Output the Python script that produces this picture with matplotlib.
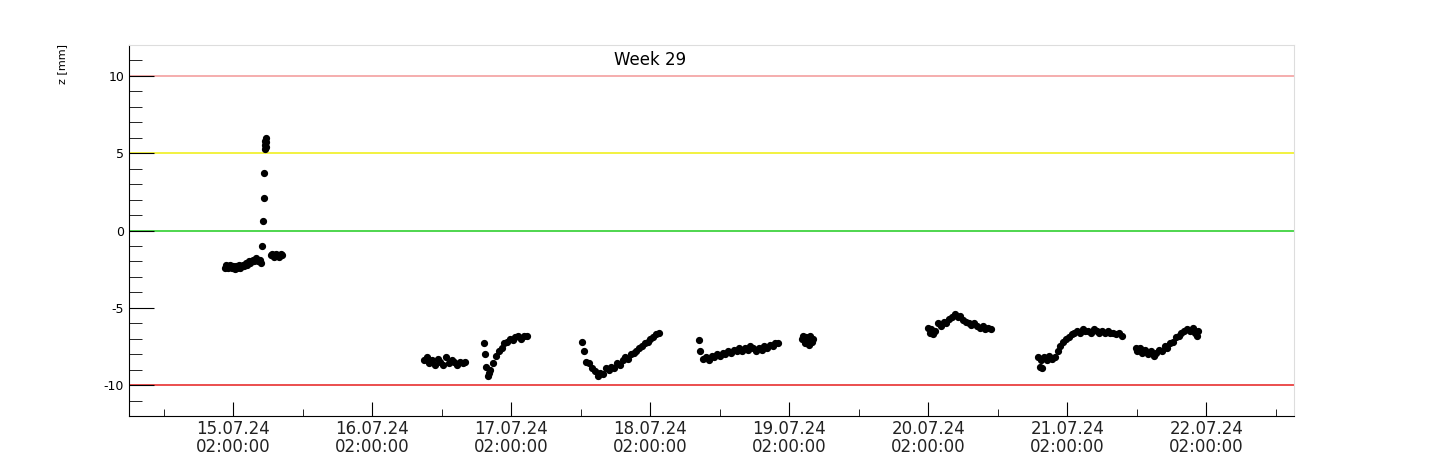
import matplotlib
matplotlib.use("Agg")
import matplotlib.pyplot as plt
from matplotlib.ticker import MultipleLocator

# time in days relative to 15.07.24 02:00:00
t1 = [-0.06,-0.05,-0.04,-0.03,-0.02,-0.01,0.0,0.01,0.02,0.03,0.04,0.05,0.06,0.07,0.08,0.09,0.10,0.11,0.12,0.13,0.14,0.15,0.16,0.17,0.18,0.19,0.20]
z1 = [-2.4,-2.2,-2.4,-2.3,-2.2,-2.4,-2.3,-2.5,-2.3,-2.4,-2.2,-2.4,-2.3,-2.2,-2.3,-2.1,-2.2,-2.0,-2.1,-2.0,-1.9,-2.0,-1.8,-1.9,-2.0,-1.9,-2.1]
t2 = [0.21,0.215,0.22,0.222,0.225,0.228,0.23,0.232,0.235,0.238]
z2 = [-1.0,0.6,2.1,3.7,5.3,5.5,5.8,6.0,5.7,5.4]
t3 = [0.27,0.28,0.29,0.30,0.31,0.32,0.33,0.34,0.35]
z3 = [-1.6,-1.5,-1.7,-1.6,-1.5,-1.6,-1.7,-1.5,-1.6]
t4 = [1.37,1.39,1.41,1.43,1.45,1.47,1.49,1.51,1.53,1.55,1.57,1.59,1.61,1.63,1.65,1.67]
z4 = [-8.4,-8.2,-8.6,-8.4,-8.7,-8.3,-8.5,-8.7,-8.2,-8.6,-8.4,-8.5,-8.7,-8.5,-8.6,-8.5]
t5 = [1.80,1.81,1.82,1.83,1.84,1.85,1.87,1.89,1.91,1.93,1.95,1.97,1.99,2.01,2.03,2.05,2.07,2.09,2.11]
z5 = [-7.3,-8.0,-8.8,-9.4,-9.2,-9.0,-8.6,-8.1,-7.8,-7.6,-7.3,-7.2,-7.0,-7.1,-6.9,-6.8,-7.0,-6.8,-6.8]
t6 = [2.51,2.52,2.54,2.56,2.58,2.60,2.62,2.64,2.66,2.68,2.70,2.72,2.74,2.76,2.78,2.80,2.82,2.84,2.86,2.88,2.90,2.92,2.94,2.96,2.98,3.00,3.02,3.04,3.06]
z6 = [-7.2,-7.8,-8.5,-8.6,-8.9,-9.1,-9.4,-9.2,-9.3,-8.9,-9.0,-8.8,-8.9,-8.6,-8.7,-8.4,-8.2,-8.3,-8.0,-7.9,-7.8,-7.6,-7.5,-7.3,-7.2,-7.0,-6.9,-6.7,-6.6]
t7 = [3.35,3.36,3.38,3.40,3.42,3.44,3.46,3.48,3.50,3.52,3.54,3.56,3.58,3.60,3.62,3.64,3.66,3.68,3.70,3.72,3.74,3.76,3.78,3.80,3.82,3.84,3.86,3.88,3.90,3.92]
z7 = [-7.1,-7.8,-8.3,-8.2,-8.4,-8.1,-8.2,-8.0,-8.1,-7.9,-8.0,-7.8,-7.9,-7.7,-7.8,-7.6,-7.8,-7.6,-7.7,-7.5,-7.6,-7.8,-7.6,-7.7,-7.5,-7.6,-7.4,-7.5,-7.3,-7.3]
t8 = [4.09,4.10,4.11,4.12,4.13,4.14,4.15,4.16,4.17]
z8 = [-7.0,-6.8,-7.3,-6.9,-7.1,-7.4,-6.8,-7.2,-7.0]
t9 = [5.00,5.01,5.02,5.03,5.05,5.07,5.09,5.11,5.13,5.15,5.17,5.19,5.21,5.23,5.25,5.27,5.29,5.31,5.33,5.35,5.37,5.39,5.41,5.43,5.45]
z9 = [-6.3,-6.6,-6.4,-6.7,-6.5,-6.0,-6.2,-5.9,-6.0,-5.7,-5.6,-5.4,-5.6,-5.5,-5.8,-5.9,-6.0,-6.1,-6.0,-6.2,-6.3,-6.2,-6.4,-6.3,-6.4]
t10 = [5.79,5.80,5.81,5.82,5.83,5.85,5.87,5.89,5.91,5.93,5.95,5.97,5.99,6.01,6.03,6.05,6.07,6.09,6.11,6.13,6.15,6.17,6.19,6.21,6.23,6.25,6.27,6.29,6.31,6.33,6.35,6.37,6.39]
z10 = [-8.2,-8.8,-8.4,-8.9,-8.2,-8.4,-8.1,-8.3,-8.2,-7.8,-7.5,-7.2,-7.0,-6.9,-6.7,-6.6,-6.5,-6.6,-6.4,-6.5,-6.5,-6.6,-6.4,-6.5,-6.6,-6.5,-6.6,-6.5,-6.6,-6.6,-6.7,-6.6,-6.8]
t11 = [6.49,6.50,6.52,6.54,6.56,6.58,6.60,6.62,6.64,6.66,6.68,6.70,6.72,6.74,6.76,6.78,6.80,6.82,6.84,6.86,6.88,6.90,6.92,6.93,6.94]
z11 = [-7.6,-7.8,-7.6,-7.9,-7.7,-8.0,-7.8,-8.1,-7.9,-7.7,-7.8,-7.5,-7.6,-7.3,-7.2,-6.9,-6.8,-6.6,-6.5,-6.4,-6.5,-6.3,-6.6,-6.8,-6.5]
segments = [(t1,z1),(t2,z2),(t3,z3),(t4,z4),(t5,z5),(t6,z6),(t7,z7),(t8,z8),(t9,z9),(t10,z10),(t11,z11)]

day_ticks = [0,1,2,3,4,5,6,7]
day_labels = ["15.07.24\n02:00:00","16.07.24\n02:00:00","17.07.24\n02:00:00","18.07.24\n02:00:00",
              "19.07.24\n02:00:00","20.07.24\n02:00:00","21.07.24\n02:00:00","22.07.24\n02:00:00"]
y_ticks = [-10,-5,0,5,10]
limit_levels = [(10,'#f4a0a0'),(5,'#f0f020'),(0,'#30d030'),(-10,'#e83030')]

fig = plt.figure(figsize=(14.4,4.59), dpi=100)
ax = fig.add_axes([129/1440, 43/459, (1294-129)/1440, (416-45)/459])
for lv, c in limit_levels:
    ax.axhline(lv, color=c, lw=1.2, zorder=1)
for t, z in segments:
    ax.plot(t, z, 'o', color='black', ms=4.2, zorder=3)
ax.set_xlim(-0.75, 7.63)
ax.set_ylim(-12, 12)
ax.set_xticks(day_ticks)
ax.set_xticklabels(day_labels, fontsize=12, color='#222222', linespacing=1.0)
ax.xaxis.set_minor_locator(MultipleLocator(0.5))
ax.set_yticks(y_ticks)
ax.set_yticklabels([str(v) for v in y_ticks], fontsize=9)
ax.yaxis.set_minor_locator(MultipleLocator(1))
ax.tick_params(axis='both', which='both', direction='in', color='black')
ax.tick_params(axis='y', which='major', length=18)
ax.tick_params(axis='y', which='minor', length=9)
ax.tick_params(axis='x', which='major', length=10, pad=3)
ax.tick_params(axis='x', which='minor', length=5)
for s in ['top','right']:
    ax.spines[s].set_color('#dddddd')
ax.text(0.447, 0.985, "Week 29", transform=ax.transAxes, fontsize=12, ha='center', va='top')
fig.text(62/1440, 415/459, "z [mm]", rotation=90, fontsize=8, ha='center', va='top')
fig.savefig("out.png", dpi=100, facecolor='white')
